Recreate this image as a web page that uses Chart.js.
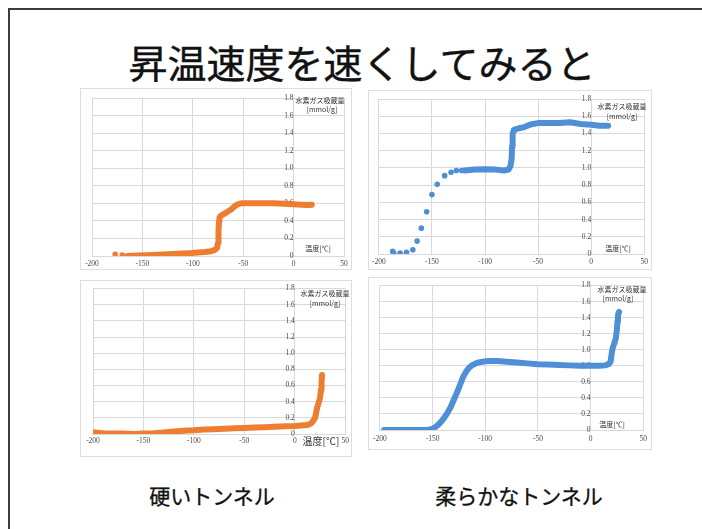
<!DOCTYPE html>
<html lang="ja">
<head>
<meta charset="utf-8">
<title>昇温速度を速くしてみると</title>
<script src="https://cdn.jsdelivr.net/npm/chart.js@4/dist/chart.umd.min.js"></script>
<style>
  html, body { margin: 0; padding: 0; background: #fff; }
  body { width: 702px; height: 529px; position: relative; overflow: hidden;
         font-family: "Noto Sans CJK JP", "Noto Sans", sans-serif; }
  .slide { position: absolute; left: 8px; top: 8px; width: 760px; height: 600px;
           border-top: 2px solid #3c3c3c; border-left: 2px solid #3c3c3c; box-sizing: border-box; }
  .title { position: absolute; left: 0; width: 724px; top: 42px; text-align: center;
           font-size: 39px; line-height: 39px; color: #111; -webkit-text-stroke: 0.4px #111; }
  .caption { position: absolute; font-size: 21px; line-height: 21px; color: #111;
             transform: translateX(-50%); white-space: nowrap; -webkit-text-stroke: 0.3px #111; }
  .frame { position: absolute; border: 1px solid #dedede; box-sizing: border-box; background: #fff; }
  canvas { position: absolute; }
  .ax { position: absolute; font-size: 7px; line-height: 7px; color: #333;
        transform: translateX(-50%); white-space: nowrap; }
</style>
</head>
<body>
<div class="slide"></div>
<div class="title">昇温速度を速くしてみると</div>

<div class="frame" style="left:80px;top:88px;width:272px;height:182px"></div>
<canvas id="c1" width="272" height="182" style="left:80px;top:88px"></canvas>
<div class="frame" style="left:368px;top:90px;width:284px;height:180px"></div>
<canvas id="c2" width="284" height="180" style="left:368px;top:90px"></canvas>
<div class="frame" style="left:80px;top:280px;width:272px;height:177px"></div>
<canvas id="c3" width="272" height="177" style="left:80px;top:280px"></canvas>
<div class="frame" style="left:368px;top:277px;width:284px;height:173px"></div>
<canvas id="c4" width="284" height="173" style="left:368px;top:277px"></canvas>

<!-- axis titles -->
<div class="ax" style="left:320px;top:97px">水素ガス吸蔵量</div>
<div class="ax" style="left:322px;top:106px">[mmol/g]</div>
<div class="ax" style="left:318px;top:245px">温度[℃]</div>

<div class="ax" style="left:622px;top:103px">水素ガス吸蔵量</div>
<div class="ax" style="left:622px;top:113px">[mmol/g]</div>
<div class="ax" style="left:618px;top:245px">温度[℃]</div>

<div class="ax" style="left:325px;top:290px">水素ガス吸蔵量</div>
<div class="ax" style="left:325px;top:300px">[mmol/g]</div>
<div class="ax" style="left:321px;top:436px;font-size:10px;line-height:10px">温度[℃]</div>

<div class="ax" style="left:622px;top:286px">水素ガス吸蔵量</div>
<div class="ax" style="left:618px;top:295px">[mmol/g]</div>
<div class="ax" style="left:612px;top:421px">温度[℃]</div>

<div class="caption" style="left:212px;top:485px">硬いトンネル</div>
<div class="caption" style="left:519px;top:485px">柔らかなトンネル</div>

<script>
// Axis ticks shared by all four panels
const xTicks = [-200, -150, -100, -50, 0, 50];
const yTicks = [0, 0.2, 0.4, 0.6, 0.8, 1, 1.2, 1.4, 1.6, 1.8];

// 硬いトンネル (upper panel)
const hardA_sparseX = [-177, -170];
const hardA_sparseY = [0.02, 0.01];
const hardA_X = [-165, -155, -145, -135, -125, -115, -105, -95, -88, -82, -78, -76, -75, -74.5, -74, -73.5, -72, -69, -66, -62, -58, -55, -52, -49, -45, -40, -30, -20, -10, 0, 8, 14, 18];
const hardA_Y = [0.0, 0.005, 0.01, 0.015, 0.02, 0.025, 0.03, 0.04, 0.045, 0.055, 0.07, 0.09, 0.15, 0.28, 0.4, 0.44, 0.46, 0.48, 0.5, 0.53, 0.57, 0.59, 0.6, 0.6, 0.6, 0.6, 0.6, 0.6, 0.595, 0.59, 0.585, 0.58, 0.585];

// 柔らかなトンネル (upper panel)
const softA_sparseX = [-187, -186, -180, -174, -168, -164, -160, -155, -150, -145, -138, -132, -127, -122];
const softA_sparseY = [0.03, 0.01, 0.01, 0.02, 0.05, 0.15, 0.3, 0.49, 0.69, 0.81, 0.91, 0.95, 0.97, 0.97];
const softA_X = [-119, -110, -100, -90, -82, -78, -76, -75, -74.5, -74, -73.5, -73, -71, -68, -64, -60, -55, -50, -40, -30, -20, -10, 0, 8, 16];
const softA_Y = [0.97, 0.98, 0.985, 0.98, 0.97, 0.98, 1.02, 1.1, 1.25, 1.38, 1.42, 1.44, 1.45, 1.46, 1.47, 1.49, 1.51, 1.52, 1.52, 1.52, 1.53, 1.51, 1.5, 1.49, 1.49];

// 硬いトンネル (lower panel)
const hardB_X = [-198, -190, -180, -170, -160, -150, -140, -130, -120, -110, -100, -90, -80, -70, -60, -50, -40, -30, -20, -10, 0, 6, 12, 16, 18, 20, 21, 22, 23, 24, 25, 26, 26.5, 27];
const hardB_Y = [0.02, 0.01, 0.005, 0.005, 0.0, 0.005, 0.01, 0.02, 0.03, 0.04, 0.045, 0.055, 0.06, 0.065, 0.07, 0.075, 0.08, 0.085, 0.09, 0.095, 0.1, 0.105, 0.11, 0.13, 0.16, 0.2, 0.25, 0.32, 0.36, 0.4, 0.45, 0.55, 0.65, 0.73];

// 柔らかなトンネル (lower panel)
const softB_X = [-196, -185, -175, -165, -155, -151, -148, -145, -142, -139, -136, -133, -130, -127, -124, -121, -118, -115, -112, -108, -104, -100, -95, -90, -85, -80, -70, -60, -50, -40, -30, -20, -10, 0, 8, 14, 17, 19, 20, 21, 22, 23, 24, 25, 25.5, 26, 26.5, 27];
const softB_Y = [0.0, 0.0, 0.0, 0.0, 0.0, 0.01, 0.03, 0.06, 0.1, 0.15, 0.21, 0.28, 0.37, 0.46, 0.56, 0.66, 0.73, 0.78, 0.81, 0.835, 0.848, 0.855, 0.86, 0.86, 0.855, 0.85, 0.84, 0.83, 0.82, 0.815, 0.81, 0.805, 0.8, 0.8, 0.8, 0.805, 0.82, 0.85, 0.95, 1.02, 1.06, 1.1, 1.15, 1.25, 1.35, 1.42, 1.46, 1.47];

const ORANGE = '#ED7D31';
const BLUE = '#4F8FD6';
const GRID = '#d9d9d9';
const TICK = '#4a4a4a';

const pts = (xs, ys) => xs.map((x, i) => ({ x, y: ys[i] }));

function band(xs, ys, color) {
  return {
    data: pts(xs, ys), showLine: true, borderColor: color, backgroundColor: color,
    borderWidth: 6, borderCapStyle: 'round', borderJoinStyle: 'round',
    pointRadius: 0, tension: 0
  };
}
function dots(xs, ys, color) {
  return {
    data: pts(xs, ys), showLine: false, backgroundColor: color, borderColor: color,
    pointRadius: 2.8, borderWidth: 0
  };
}

function panel(id, datasets, pad, xAxisH, tickPad) {
  new Chart(document.getElementById(id), {
    type: 'scatter',
    data: { datasets },
    options: {
      responsive: false, animation: false, devicePixelRatio: 1,
      layout: { padding: { left: pad[0], right: pad[1], top: pad[2], bottom: 0 } },
      plugins: { legend: { display: false }, tooltip: { enabled: false } },
      scales: {
        x: {
          type: 'linear', position: 'bottom', min: xTicks[0], max: xTicks[xTicks.length - 1],
          afterBuildTicks: s => { s.ticks = xTicks.map(v => ({ value: v })); },
          afterFit: s => { s.height = xAxisH; },
          ticks: { color: TICK, font: { family: 'Liberation Serif', size: 7.5 }, padding: tickPad, maxRotation: 0 },
          grid: { color: GRID, drawTicks: false, lineWidth: 1 },
          border: { color: GRID }
        },
        y: {
          type: 'linear', position: { x: 0 }, min: yTicks[0], max: yTicks[yTicks.length - 1],
          afterBuildTicks: s => { s.ticks = yTicks.map(v => ({ value: v })); },
          ticks: { color: TICK, font: { family: 'Liberation Serif', size: 7.5 }, padding: 4 },
          grid: { color: GRID, drawTicks: false, lineWidth: 1 },
          border: { color: GRID }
        }
      }
    }
  });
}

panel('c1', [dots(hardA_sparseX, hardA_sparseY, ORANGE), band(hardA_X, hardA_Y, ORANGE)], [12, 8, 10], 14, 4);
panel('c2', [dots(softA_sparseX, softA_sparseY, BLUE), band(softA_X, softA_Y, BLUE)], [10, 5, 9], 16, 4);
panel('c3', [band(hardB_X, hardB_Y, ORANGE)], [13, 6, 8], 23, 3);
panel('c4', [band(softB_X, softB_Y, BLUE)], [9, 8, 4], 20, 5);
</script>
</body>
</html>
